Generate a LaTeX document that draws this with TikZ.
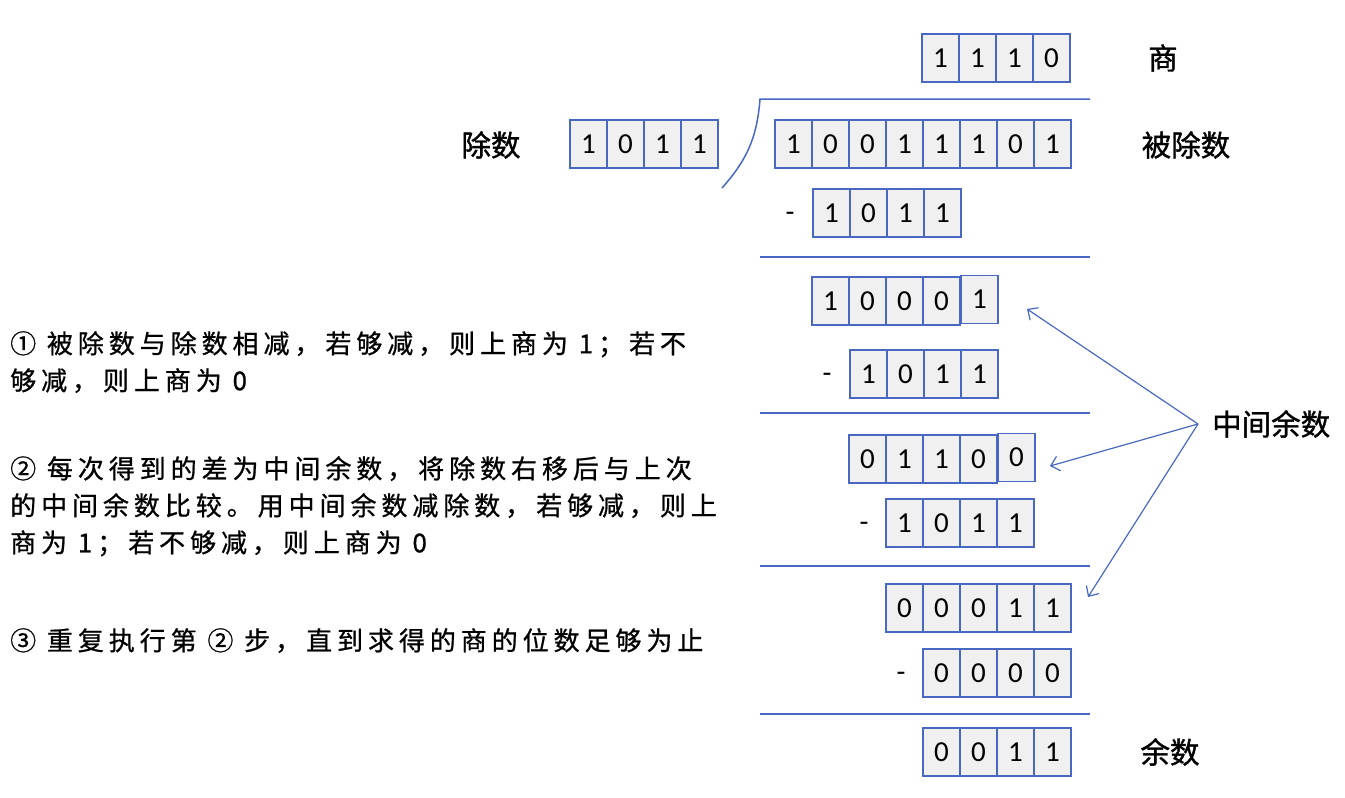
\documentclass[tikz,border=0pt]{standalone}
\usepackage{fontspec}
\setmainfont{Carlito}
\newfontfamily\cjk{Noto Sans CJK SC}
\newfontfamily\cjkb[FakeBold=1.2]{Noto Sans CJK SC}
\newfontfamily\cjksp[LetterSpace=19,FakeBold=0.8]{Noto Sans CJK SC}
\usetikzlibrary{arrows.meta}
\definecolor{bl}{RGB}{72,104,196}
\definecolor{cellfill}{RGB}{240,240,240}
\tikzset{
  cell/.style={draw=bl,line width=1.6pt,fill=cellfill,minimum width=37pt,minimum height=48pt,inner sep=0pt,font=\fontsize{29}{29}\selectfont},
  rule/.style={draw=bl,line width=1.5pt},
  lab/.style={font=\cjkb\fontsize{29.5}{29.5}\selectfont,inner sep=0pt},
  minus/.style={font=\fontsize{29}{29}\selectfont,inner sep=0pt},
  expl/.style={font=\cjksp\fontsize{26}{37}\selectfont,align=left,anchor=north west,inner sep=0pt},
  pointer/.style={draw=bl,line width=1.2pt,-{Straight Barb[length=8pt,width=15pt,line width=1.2pt]}}
}
% \cellrow{name}{left x}{center y}{digits}
\newcommand{\cellrow}[4]{%
  \foreach \d [count=\i] in {#4}{%
    \node[cell] (#1-\i) at ({#2+(\i-0.5)*37},#3) {\d};
  }%
}
\begin{document}
\begin{tikzpicture}[x=1pt,y=-1pt]
\useasboundingbox (0,0) rectangle (1345,798);
% quotient
\cellrow{q}{922}{58}{1,1,1,0}
\node[lab] (lq) at (1163,58) {商};
% divisor
\cellrow{dv}{570}{144}{1,0,1,1}
\node[lab] (ldv) at (491,145) {除数};
% dividend
\cellrow{dd}{775}{144}{1,0,0,1,1,1,0,1}
\node[lab] (ldd) at (1186,145) {被除数};
% division bracket
\coordinate (b0) at (722,188);
\coordinate (b1) at (760,99);
\coordinate (b2) at (1090,99);
\draw[rule] (b0) .. controls (745,162) and (757,140) .. (b1) -- (b2);
% step 1
\node[minus] (m1) at (790,217) {-};
\cellrow{s1}{813}{213}{1,0,1,1}
\coordinate (l1a) at (760,257); \coordinate (l1b) at (1090,257);
\draw[rule] (l1a) -- (l1b);
\cellrow{r1}{812}{301}{1,0,0,0}
\node[cell] (r1-5) at (979.5,299.5) {1};
% step 2
\node[minus] (m2) at (827,378) {-};
\cellrow{s2}{850}{374}{1,0,1,1}
\coordinate (l2a) at (760,413); \coordinate (l2b) at (1090,413);
\draw[rule] (l2a) -- (l2b);
\cellrow{r2}{849}{459}{0,1,1,0}
\node[cell] (r2-5) at (1016.5,457.5) {0};
% step 3
\node[minus] (m3) at (864,527) {-};
\cellrow{s3}{886}{523}{1,0,1,1}
\coordinate (l3a) at (760,566); \coordinate (l3b) at (1090,566);
\draw[rule] (l3a) -- (l3b);
\cellrow{r3}{886}{608}{0,0,0,1,1}
% step 4
\node[minus] (m4) at (901,677) {-};
\cellrow{s4}{923}{673}{0,0,0,0}
\coordinate (l4a) at (760,714); \coordinate (l4b) at (1090,714);
\draw[rule] (l4a) -- (l4b);
\cellrow{rem}{923}{752}{0,0,1,1}
\node[lab] (lrem) at (1170,752) {余数};
% intermediate remainder label and pointers
\node[lab,anchor=west] (mid) at (1212,424) {中间余数};
\coordinate (src) at (1198,424);
\coordinate (t1) at (1027,309);
\coordinate (t2) at (1050,466);
\coordinate (t3) at (1088,597);
\draw[pointer] (src) -- (t1);
\draw[pointer] (src) -- (t2);
\draw[pointer] (src) -- (t3);
% explanations
\node[expl] (e1) at (10,331) {① 被除数与除数相减，若够减，则上商为 1；若不\\够减，则上商为 0};
\node[expl] (e2) at (10,456) {② 每次得到的差为中间余数，将除数右移后与上次\\的中间余数比较。用中间余数减除数，若够减，则上\\商为 1；若不够减，则上商为 0};
\node[expl] (e3) at (10,628) {③ 重复执行第 ② 步，直到求得的商的位数足够为止};
\end{tikzpicture}
\end{document}
